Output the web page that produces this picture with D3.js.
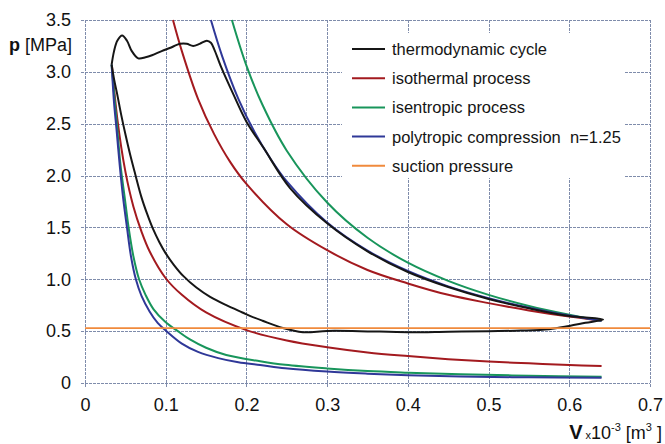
<!DOCTYPE html>
<html>
<head>
<meta charset="utf-8">
<script src="https://cdn.jsdelivr.net/npm/d3@7"></script>
<style>
body { margin: 0; background: #fff; }
svg { font-family: "Liberation Sans", Arial, sans-serif; display: block; }
</style>
</head>
<body>
<svg id="canvas"></svg>
<script>
// values: [V x10^-3 m3, p MPa]
const cycle = [
    [0.033, 3.07], [0.036, 3.2], [0.040, 3.3], [0.046, 3.35], [0.052, 3.30], [0.058, 3.2],
    [0.066, 3.13], [0.075, 3.14], [0.083, 3.16], [0.095, 3.20], [0.105, 3.23], [0.118, 3.27],
    [0.126, 3.27], [0.134, 3.25], [0.142, 3.27], [0.151, 3.30], [0.156, 3.28], [0.160, 3.22],
    [0.169, 3.04], [0.184, 2.78], [0.200, 2.52], [0.221, 2.27], [0.254, 1.88], [0.300, 1.54],
    [0.350, 1.27], [0.400, 1.07], [0.450, 0.925], [0.500, 0.81], [0.550, 0.72], [0.600, 0.645],
    [0.642, 0.612], [0.620, 0.58], [0.600, 0.55], [0.575, 0.518], [0.540, 0.505], [0.500, 0.50],
    [0.450, 0.495], [0.400, 0.49], [0.340, 0.50], [0.300, 0.502], [0.270, 0.49], [0.245, 0.53],
    [0.220, 0.60], [0.205, 0.645], [0.195, 0.68], [0.175, 0.75], [0.155, 0.83], [0.138, 0.92],
    [0.122, 1.03], [0.110, 1.14], [0.100, 1.25], [0.092, 1.36], [0.084, 1.49], [0.077, 1.63],
    [0.070, 1.79], [0.062, 2.02], [0.056, 2.20], [0.050, 2.40], [0.045, 2.58], [0.040, 2.78],
    [0.036, 2.93], [0.033, 3.07]
];

const isothermHigh = [
    [0.109, 3.5], [0.12, 3.2], [0.14, 2.74], [0.16, 2.4], [0.18, 2.13], [0.2, 1.92],
    [0.25, 1.53], [0.3, 1.28], [0.35, 1.09], [0.4, 0.96], [0.45, 0.85], [0.5, 0.77],
    [0.55, 0.70], [0.6, 0.64], [0.64, 0.6]
];
const isothermLow = [
    [0.0335, 3.05], [0.04, 2.55], [0.05, 2.04], [0.06, 1.7], [0.07, 1.46], [0.08, 1.27],
    [0.1, 1.01], [0.12, 0.85], [0.15, 0.68], [0.2, 0.51], [0.25, 0.41], [0.3, 0.345],
    [0.35, 0.295], [0.4, 0.26], [0.45, 0.23], [0.5, 0.207], [0.55, 0.19], [0.6, 0.173], [0.64, 0.163]
];

const isentropeHigh = [
    [0.182, 3.5], [0.2, 3.06], [0.22, 2.68], [0.25, 2.24], [0.3, 1.74], [0.35, 1.40],
    [0.4, 1.16], [0.45, 0.985], [0.5, 0.85], [0.55, 0.743], [0.6, 0.658], [0.64, 0.6]
];
const isentropeLow = [
    [0.033, 3.07], [0.037, 2.7], [0.040, 2.45], [0.044, 2.1], [0.049, 1.8], [0.054, 1.5],
    [0.060, 1.22], [0.067, 1.0], [0.075, 0.85], [0.085, 0.71], [0.100, 0.585], [0.115, 0.50],
    [0.130, 0.42], [0.150, 0.34], [0.175, 0.27], [0.217, 0.21], [0.248, 0.175], [0.30, 0.14],
    [0.35, 0.115], [0.40, 0.10], [0.465, 0.085], [0.55, 0.07], [0.64, 0.06]
];

const polytropeHigh = [
    [0.156, 3.5], [0.17, 3.15], [0.19, 2.74], [0.21, 2.42], [0.23, 2.16], [0.25, 1.944],
    [0.3, 1.548], [0.35, 1.277], [0.4, 1.08], [0.45, 0.932], [0.5, 0.818], [0.55, 0.726],
    [0.6, 0.651], [0.64, 0.6]
];
const polytropeLow = [
    [0.033, 3.07], [0.036, 2.7], [0.039, 2.45], [0.043, 2.1], [0.047, 1.8], [0.052, 1.5],
    [0.057, 1.22], [0.063, 1.0], [0.070, 0.84], [0.080, 0.69], [0.090, 0.58], [0.101, 0.50],
    [0.120, 0.38], [0.140, 0.30], [0.165, 0.24], [0.190, 0.20], [0.217, 0.174], [0.248, 0.142],
    [0.30, 0.11], [0.35, 0.09], [0.40, 0.075], [0.465, 0.062], [0.55, 0.055], [0.64, 0.05]
];

const suction = [[0, 0.53], [0.7, 0.53]];

const xTicks = [0, 0.1, 0.2, 0.3, 0.4, 0.5, 0.6, 0.7];
const xTickLabels = ["0", "0.1", "0.2", "0.3", "0.4", "0.5", "0.6", "0.7"];
const yTicks = [0, 0.5, 1.0, 1.5, 2.0, 2.5, 3.0, 3.5];
const yTickLabels = ["0", "0.5", "1.0", "1.5", "2.0", "2.5", "3.0", "3.5"];

const legendNames = ["thermodynamic cycle", "isothermal process", "isentropic process",
    "polytropic compression  n=1.25", "suction pressure"];

const colors = {
    cycle: "#161616",
    iso: "#a31a1f",
    isen: "#18955b",
    poly: "#2f3898",
    suction: "#f08a3c"
};

const width = 665,
    height = 444;
const margin = { top: 20, right: 15, bottom: 61, left: 85 };
const innerWidth = width - margin.left - margin.right;
const innerHeight = height - margin.top - margin.bottom;

const svg = d3.select("#canvas")
    .attr("width", width)
    .attr("height", height);

const g = svg.append("g")
    .attr("transform", `translate(${margin.left}, ${margin.top})`);

const scaleX = d3.scaleLinear().domain([0, 0.7]).range([0, innerWidth]);
const scaleY = d3.scaleLinear().domain([0, 3.5]).range([innerHeight, 0]);

// grid
const grid = g.append("g").classed("grid", true)
    .attr("stroke", "#7f8cab")
    .attr("stroke-width", 1)
    .attr("stroke-dasharray", "3,1");
grid.selectAll("line.gy").data(yTicks).join("line")
    .attr("class", "gy")
    .attr("x1", -4).attr("x2", innerWidth)
    .attr("y1", d => Math.round(scaleY(d)) + 0.5)
    .attr("y2", d => Math.round(scaleY(d)) + 0.5);
grid.selectAll("line.gx").data(xTicks).join("line")
    .attr("class", "gx")
    .attr("y1", 0).attr("y2", innerHeight + 4)
    .attr("x1", d => Math.round(scaleX(d)) + 0.5)
    .attr("x2", d => Math.round(scaleX(d)) + 0.5);

// axes labels
const axisX = g.append("g")
    .attr("transform", `translate(0, ${innerHeight})`)
    .call(d3.axisBottom(scaleX).tickValues(xTicks).tickSize(0).tickPadding(15)
        .tickFormat((d, i) => xTickLabels[i]));
const axisY = g.append("g")
    .call(d3.axisLeft(scaleY).tickValues(yTicks).tickSize(0).tickPadding(14)
        .tickFormat((d, i) => yTickLabels[i]));
[axisX, axisY].forEach(a => {
    a.attr("font-family", null).attr("font-size", null);
    a.select(".domain").remove();
    a.selectAll("text")
        .attr("font-size", 18)
        .attr("fill", "#111");
});

// legend background
const legend = g.append("g").classed("legend", true)
    .attr("transform", `translate(${342 - margin.left}, ${33 - margin.top})`);
legend.append("rect")
    .attr("width", 283).attr("height", 145)
    .attr("fill", "#fff");

// curves
const lineGen = d3.line()
    .x(d => scaleX(d[0]))
    .y(d => scaleY(d[1]))
    .curve(d3.curveCatmullRom.alpha(0.5));

const curves = [
    { pts: isothermHigh, color: colors.iso },
    { pts: isothermLow, color: colors.iso },
    { pts: isentropeHigh, color: colors.isen },
    { pts: isentropeLow, color: colors.isen },
    { pts: polytropeHigh, color: colors.poly },
    { pts: polytropeLow, color: colors.poly },
    { pts: cycle, color: colors.cycle },
    { pts: suction, color: colors.suction }
];
g.append("g").classed("curves", true)
    .selectAll("path").data(curves).join("path")
    .attr("fill", "none")
    .attr("stroke", d => d.color)
    .attr("stroke-width", d => d.color === colors.suction ? 1.8 : 2)
    .attr("stroke-linejoin", "round")
    .attr("d", d => lineGen(d.pts));

// legend entries
const legendColors = [colors.cycle, colors.iso, colors.isen, colors.poly, colors.suction];
const rows = legend.selectAll("g.row").data(legendNames).join("g")
    .attr("class", "row")
    .attr("transform", (d, i) => `translate(0, ${16 + i * 29.2})`);
rows.append("line")
    .attr("x1", 10).attr("x2", 43)
    .attr("stroke", (d, i) => legendColors[i])
    .attr("stroke-width", 2);
rows.append("text")
    .attr("x", 50).attr("y", 6)
    .attr("font-size", 16.5)
    .attr("fill", "#151515")
    .style("white-space", "pre")
    .text(d => d);

// axis titles
const yTitle = svg.append("text")
    .attr("x", 72).attr("y", 51)
    .attr("text-anchor", "end")
    .attr("font-size", 18)
    .attr("fill", "#111");
yTitle.append("tspan").attr("font-weight", "bold").text("p");
yTitle.append("tspan").text(" [MPa]");

const xTitle = svg.append("text")
    .attr("x", 662).attr("y", 439)
    .attr("text-anchor", "end")
    .attr("fill", "#111")
    .style("white-space", "pre");
xTitle.append("tspan").attr("font-weight", "bold").attr("font-size", 20).text("V");
xTitle.append("tspan").attr("font-size", 11).text(" x");
xTitle.append("tspan").attr("font-size", 18).text("10");
xTitle.append("tspan").attr("font-size", 11).attr("dy", -8).text("-3");
xTitle.append("tspan").attr("font-size", 18).attr("dy", 8).text(" [m");
xTitle.append("tspan").attr("font-size", 11).attr("dy", -8).text("3");
xTitle.append("tspan").attr("font-size", 18).attr("dy", 8).text(" ]");
</script>
</body>
</html>
